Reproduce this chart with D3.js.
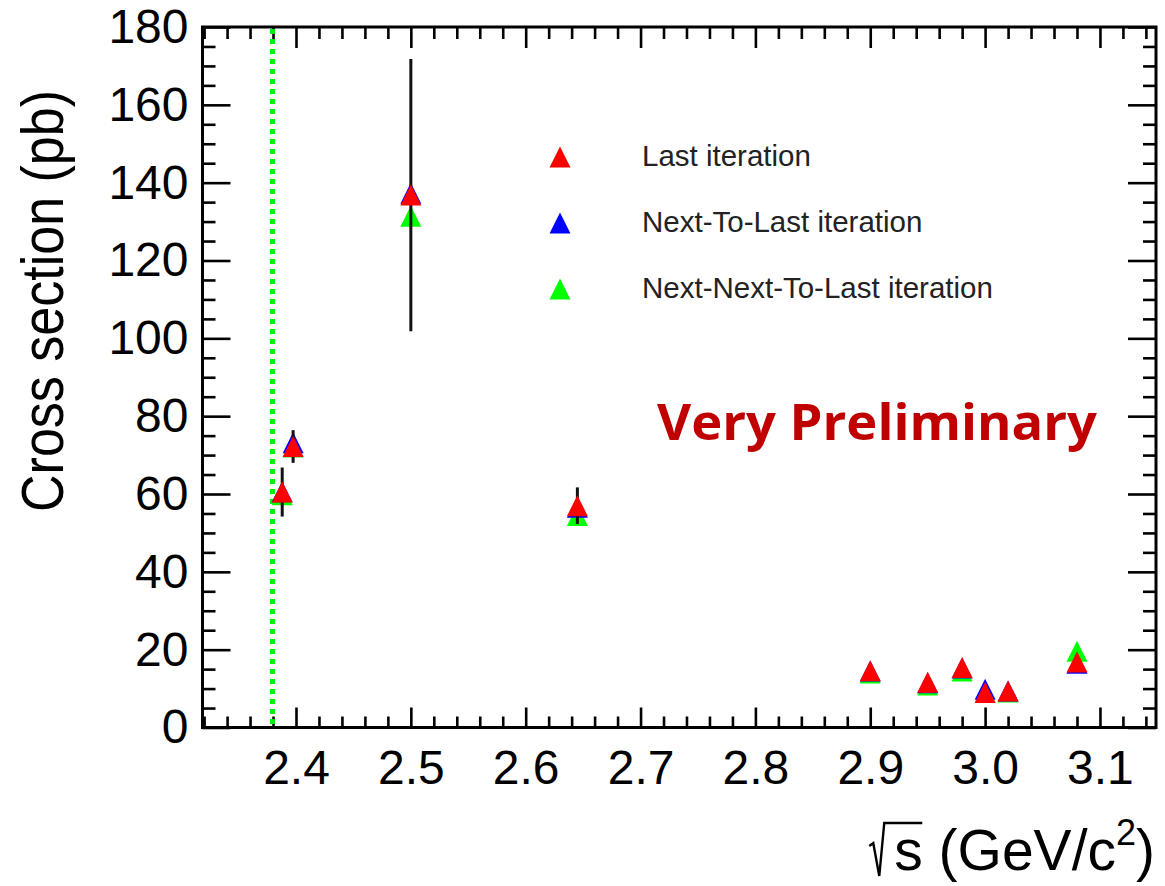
<!DOCTYPE html>
<html>
<head>
<meta charset="utf-8">
<script src="https://cdn.jsdelivr.net/npm/d3@7"></script>
<style>
  html, body { margin: 0; padding: 0; background: #fff; }
  svg { display: block; }
</style>
</head>
<body>
<svg id="chart" width="1165" height="886"></svg>
<script>
// ---------------- data ----------------
const energies        = [2.388, 2.3975, 2.5, 2.645, 2.9, 2.95, 2.98, 3.0, 3.02, 3.08];
const lastIteration   = [60.5, 72.2, 136.8, 57.0, 14.6, 11.6, 15.4, 9.0, 9.4, 16.8];
const nextToLast      = [60.6, 73.2, 137.3, 56.6, 14.5, 11.5, 15.3, 9.85, 9.4, 16.5];
const nextNextToLast  = [59.8, 72.1, 131.4, 54.5, 14.0, 10.9, 14.5, 9.0, 9.15, 19.6];
const lastErrors      = [6.3, 4.2, 35.0, 4.7, 1.2, 1.2, 1.5, 1.2, 1.2, 1.2];

const seriesNames  = ["Last iteration", "Next-To-Last iteration", "Next-Next-To-Last iteration"];
const seriesColors = ["#ff0000", "#0000ff", "#00ff00"];

const xLimits   = [2.3186, 3.1488];
const yLimits   = [0, 180];
const xMajorTicks = [2.4, 2.5, 2.6, 2.7, 2.8, 2.9, 3.0, 3.1];
const yMajorTicks = [0, 20, 40, 60, 80, 100, 120, 140, 160, 180];
const thresholdEnergy = 2.3795;

const yTitle = "Cross section (pb)";
const watermark = "Very Preliminary";

// ---------------- layout ----------------
const svg = d3.select("#chart");
const M = { left: 202.5, top: 27, right: 1156, bottom: 727.5 };
const FONT = "'Liberation Sans', Arial, Helvetica, sans-serif";

svg.append("rect").attr("width", 1165).attr("height", 886).attr("fill", "#fff");

const x = d3.scaleLinear().domain(xLimits).range([M.left, M.right]);
const y = d3.scaleLinear().domain(yLimits).range([M.bottom, M.top]);

// minor tick positions (every 0.02 on x, every 5 on y)
const xMinorTicks = d3.range(116, 158).map(i => +(i * 0.02).toFixed(2))
  .filter(v => v >= xLimits[0] && v <= xLimits[1] && !xMajorTicks.some(m => Math.abs(m - v) < 1e-6));
const yMinorTicks = d3.range(0, 181, 5).filter(v => v % 20 !== 0);

function styleAxis(g) {
  g.select(".domain").remove();
  g.selectAll(".tick line").attr("stroke", "#000").attr("stroke-width", 2.6);
  g.selectAll(".tick text").attr("font-family", FONT).attr("font-size", 48).attr("fill", "#000");
}

// bottom
svg.append("g").attr("transform", `translate(0,${M.bottom})`)
  .call(d3.axisBottom(x).tickValues(xMajorTicks).tickFormat(d3.format(".1f")).tickSize(-20).tickPadding(22))
  .call(styleAxis);
svg.append("g").attr("transform", `translate(0,${M.bottom})`)
  .call(d3.axisBottom(x).tickValues(xMinorTicks).tickFormat("").tickSize(-11))
  .call(styleAxis);
// top
svg.append("g").attr("transform", `translate(0,${M.top})`)
  .call(d3.axisTop(x).tickValues(xMajorTicks).tickFormat("").tickSize(-21))
  .call(styleAxis);
svg.append("g").attr("transform", `translate(0,${M.top})`)
  .call(d3.axisTop(x).tickValues(xMinorTicks).tickFormat("").tickSize(-12))
  .call(styleAxis);
// left
svg.append("g").attr("transform", `translate(${M.left},0)`)
  .call(d3.axisLeft(y).tickValues(yMajorTicks).tickFormat(d3.format("d")).tickSize(-28).tickPadding(14))
  .call(styleAxis);
svg.append("g").attr("transform", `translate(${M.left},0)`)
  .call(d3.axisLeft(y).tickValues(yMinorTicks).tickFormat("").tickSize(-13))
  .call(styleAxis);
// right
svg.append("g").attr("transform", `translate(${M.right},0)`)
  .call(d3.axisRight(y).tickValues(yMajorTicks).tickFormat("").tickSize(-28))
  .call(styleAxis);
svg.append("g").attr("transform", `translate(${M.right},0)`)
  .call(d3.axisRight(y).tickValues(yMinorTicks).tickFormat("").tickSize(-13))
  .call(styleAxis);

// frame
svg.append("rect")
  .attr("x", M.left).attr("y", M.top)
  .attr("width", M.right - M.left).attr("height", M.bottom - M.top)
  .attr("fill", "none").attr("stroke", "#000").attr("stroke-width", 3);

// threshold dotted line
svg.append("line")
  .attr("x1", x(thresholdEnergy)).attr("x2", x(thresholdEnergy))
  .attr("y1", y(yLimits[1]) + 2).attr("y2", y(yLimits[0]))
  .attr("stroke", "#00f000").attr("stroke-width", 5).attr("stroke-dasharray", "5,5");

// ---------------- markers ----------------
const R = 10.5;
const tri = `M0,${-R}L${R},${R}L${-R},${R}Z`;

function drawMarkers(values, color) {
  svg.append("g").selectAll("path")
    .data(energies.map((e, i) => ({ e, v: values[i] })))
    .join("path")
    .attr("d", tri)
    .attr("transform", d => `translate(${x(d.e)},${y(d.v)})`)
    .attr("fill", color);
}

drawMarkers(nextNextToLast, seriesColors[2]);
drawMarkers(nextToLast, seriesColors[1]);

// error bars of the last iteration
svg.append("g").selectAll("line")
  .data(energies.map((e, i) => ({ e, v: lastIteration[i], err: lastErrors[i] })))
  .join("line")
  .attr("x1", d => x(d.e)).attr("x2", d => x(d.e))
  .attr("y1", d => y(d.v - d.err)).attr("y2", d => y(d.v + d.err))
  .attr("stroke", "#111").attr("stroke-width", 3);

drawMarkers(lastIteration, seriesColors[0]);

// ---------------- legend ----------------
const legendRows = [166, 232, 298];
const leg = svg.append("g");
seriesNames.forEach((name, i) => {
  leg.append("path").attr("d", tri)
    .attr("transform", `translate(560,${legendRows[i] - 9})`)
    .attr("fill", seriesColors[i]);
  leg.append("text").attr("x", 642).attr("y", legendRows[i])
    .attr("font-family", FONT).attr("font-size", 29.5).attr("fill", "#222")
    .text(name);
});

// ---------------- titles ----------------
svg.append("text")
  .attr("transform", "translate(63,512) rotate(-90)")
  .attr("x", 0).attr("y", 0)
  .attr("font-family", FONT).attr("font-size", 60).attr("fill", "#000")
  .attr("textLength", 422).attr("lengthAdjust", "spacingAndGlyphs")
  .text(yTitle);

const xt = svg.append("text")
  .attr("x", 1155).attr("y", 870)
  .attr("text-anchor", "end")
  .attr("font-family", FONT).attr("font-size", 57).attr("fill", "#000");
xt.append("tspan").text("s (GeV/c");
xt.append("tspan").attr("font-size", 36).attr("dy", -25).text("2");
xt.append("tspan").attr("dy", 25).text(")");
const bb = xt.node().getBBox();
const sx = bb.x;
svg.append("path")
  .attr("d", `M${sx - 25},846L${sx - 21},843L${sx - 15},876L${sx - 10},823L${sx + 28},823`)
  .attr("fill", "none").attr("stroke", "#000").attr("stroke-width", 2.4);

// watermark
svg.append("text")
  .attr("x", 657).attr("y", 440)
  .attr("font-family", "'Open Sans', 'Liberation Sans', Arial, sans-serif")
  .attr("font-weight", "bold").attr("font-size", 50).attr("fill", "#c00000")
  .attr("textLength", 440).attr("lengthAdjust", "spacingAndGlyphs")
  .text(watermark);
</script>
</body>
</html>
